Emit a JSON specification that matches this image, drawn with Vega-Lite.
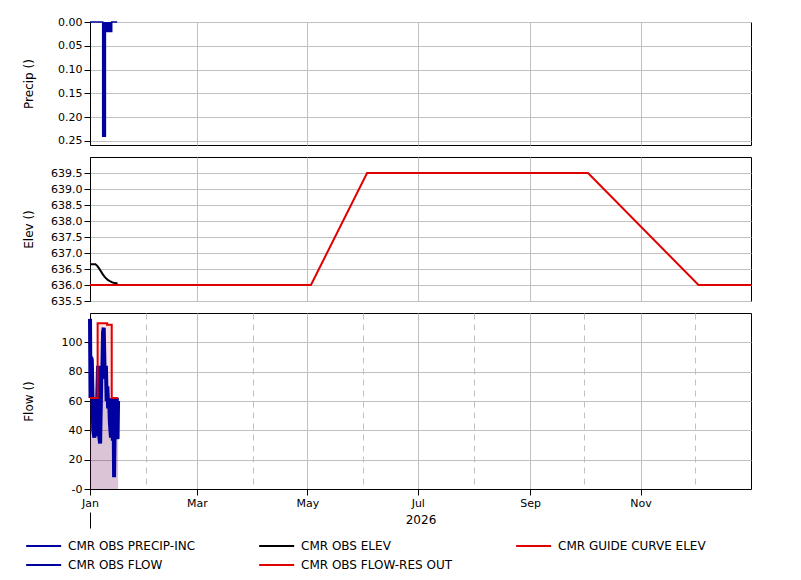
{
  "$schema": "https://vega.github.io/schema/vega-lite/v6.json",
  "padding": {"left": 21, "top": 15, "right": 5, "bottom": 5},
  "background": "white",
  "spacing": 12,
  "bounds": "flush",
  "datasets": {
    "precip": [
      {"t": "2026-01-01T00:00:00", "v": 0, "series": "CMR OBS PRECIP-INC"},
      {"t": "2026-01-08T00:00:00", "v": 0.24, "series": "CMR OBS PRECIP-INC"},
      {"t": "2026-01-09T12:00:00", "v": 0.02, "series": "CMR OBS PRECIP-INC"},
      {"t": "2026-01-13T00:00:00", "v": 0, "series": "CMR OBS PRECIP-INC"},
      {"t": "2026-01-16T00:00:00", "v": 0, "series": "CMR OBS PRECIP-INC"}
    ],
    "elev": [
      {"t": "2026-01-01T00:00:00", "v": 636.65, "series": "CMR OBS ELEV"},
      {"t": "2026-01-04T00:00:00", "v": 636.65, "series": "CMR OBS ELEV"},
      {"t": "2026-01-05T00:00:00", "v": 636.6, "series": "CMR OBS ELEV"},
      {"t": "2026-01-06T00:00:00", "v": 636.52, "series": "CMR OBS ELEV"},
      {"t": "2026-01-07T00:00:00", "v": 636.43, "series": "CMR OBS ELEV"},
      {"t": "2026-01-08T00:00:00", "v": 636.34, "series": "CMR OBS ELEV"},
      {"t": "2026-01-09T00:00:00", "v": 636.26, "series": "CMR OBS ELEV"},
      {"t": "2026-01-10T00:00:00", "v": 636.2, "series": "CMR OBS ELEV"},
      {"t": "2026-01-11T00:00:00", "v": 636.15, "series": "CMR OBS ELEV"},
      {"t": "2026-01-12T00:00:00", "v": 636.12, "series": "CMR OBS ELEV"},
      {"t": "2026-01-13T00:00:00", "v": 636.09, "series": "CMR OBS ELEV"},
      {"t": "2026-01-14T00:00:00", "v": 636.07, "series": "CMR OBS ELEV"},
      {"t": "2026-01-16T06:00:00", "v": 636.05, "series": "CMR OBS ELEV"}
    ],
    "guide": [
      {"t": "2026-01-01T00:00:00", "v": 636.0, "series": "CMR GUIDE CURVE ELEV"},
      {"t": "2026-05-03T00:00:00", "v": 636.0, "series": "CMR GUIDE CURVE ELEV"},
      {"t": "2026-06-03T00:00:00", "v": 639.5, "series": "CMR GUIDE CURVE ELEV"},
      {"t": "2026-10-03T00:00:00", "v": 639.5, "series": "CMR GUIDE CURVE ELEV"},
      {"t": "2026-12-03T00:00:00", "v": 636.0, "series": "CMR GUIDE CURVE ELEV"},
      {"t": "2027-01-01T00:00:00", "v": 636.0, "series": "CMR GUIDE CURVE ELEV"}
    ],
    "flow": [
      {"t": "2026-01-01T00:00:00", "v": 116, "series": "CMR OBS FLOW"},
      {"t": "2026-01-01T07:00:00", "v": 62, "series": "CMR OBS FLOW"},
      {"t": "2026-01-01T14:00:00", "v": 90, "series": "CMR OBS FLOW"},
      {"t": "2026-01-02T00:00:00", "v": 88, "series": "CMR OBS FLOW"},
      {"t": "2026-01-02T10:00:00", "v": 62, "series": "CMR OBS FLOW"},
      {"t": "2026-01-02T19:00:00", "v": 40, "series": "CMR OBS FLOW"},
      {"t": "2026-01-03T10:00:00", "v": 35, "series": "CMR OBS FLOW"},
      {"t": "2026-01-04T00:00:00", "v": 62, "series": "CMR OBS FLOW"},
      {"t": "2026-01-04T10:00:00", "v": 36, "series": "CMR OBS FLOW"},
      {"t": "2026-01-05T00:00:00", "v": 62, "series": "CMR OBS FLOW"},
      {"t": "2026-01-05T10:00:00", "v": 84, "series": "CMR OBS FLOW"},
      {"t": "2026-01-05T19:00:00", "v": 60, "series": "CMR OBS FLOW"},
      {"t": "2026-01-06T05:00:00", "v": 35, "series": "CMR OBS FLOW"},
      {"t": "2026-01-06T14:00:00", "v": 31, "series": "CMR OBS FLOW"},
      {"t": "2026-01-07T00:00:00", "v": 60, "series": "CMR OBS FLOW"},
      {"t": "2026-01-07T07:00:00", "v": 84, "series": "CMR OBS FLOW"},
      {"t": "2026-01-07T19:00:00", "v": 80, "series": "CMR OBS FLOW"},
      {"t": "2026-01-08T05:00:00", "v": 107, "series": "CMR OBS FLOW"},
      {"t": "2026-01-08T14:00:00", "v": 110, "series": "CMR OBS FLOW"},
      {"t": "2026-01-09T00:00:00", "v": 84, "series": "CMR OBS FLOW"},
      {"t": "2026-01-09T10:00:00", "v": 75, "series": "CMR OBS FLOW"},
      {"t": "2026-01-09T19:00:00", "v": 84, "series": "CMR OBS FLOW"},
      {"t": "2026-01-10T05:00:00", "v": 60, "series": "CMR OBS FLOW"},
      {"t": "2026-01-10T14:00:00", "v": 70, "series": "CMR OBS FLOW"},
      {"t": "2026-01-11T00:00:00", "v": 55, "series": "CMR OBS FLOW"},
      {"t": "2026-01-11T14:00:00", "v": 60, "series": "CMR OBS FLOW"},
      {"t": "2026-01-12T00:00:00", "v": 45, "series": "CMR OBS FLOW"},
      {"t": "2026-01-12T14:00:00", "v": 35, "series": "CMR OBS FLOW"},
      {"t": "2026-01-13T00:00:00", "v": 62, "series": "CMR OBS FLOW"},
      {"t": "2026-01-13T14:00:00", "v": 33, "series": "CMR OBS FLOW"},
      {"t": "2026-01-14T00:00:00", "v": 62, "series": "CMR OBS FLOW"},
      {"t": "2026-01-14T07:00:00", "v": 8, "series": "CMR OBS FLOW"},
      {"t": "2026-01-14T14:00:00", "v": 40, "series": "CMR OBS FLOW"},
      {"t": "2026-01-15T00:00:00", "v": 60, "series": "CMR OBS FLOW"},
      {"t": "2026-01-15T10:00:00", "v": 35, "series": "CMR OBS FLOW"},
      {"t": "2026-01-15T19:00:00", "v": 62, "series": "CMR OBS FLOW"},
      {"t": "2026-01-16T05:00:00", "v": 34, "series": "CMR OBS FLOW"},
      {"t": "2026-01-16T12:00:00", "v": 60, "series": "CMR OBS FLOW"}
    ],
    "resout": [
      {"t": "2026-01-01T00:00:00", "v": 62, "series": "CMR OBS FLOW-RES OUT"},
      {"t": "2026-01-05T05:00:00", "v": 113, "series": "CMR OBS FLOW-RES OUT"},
      {"t": "2026-01-10T10:00:00", "v": 112, "series": "CMR OBS FLOW-RES OUT"},
      {"t": "2026-01-13T00:00:00", "v": 62, "series": "CMR OBS FLOW-RES OUT"},
      {"t": "2026-01-16T14:00:00", "v": 62, "series": "CMR OBS FLOW-RES OUT"}
    ]
  },
  "resolve": {"scale": {"color": "shared"}, "legend": {"color": "shared"}},
  "vconcat": [
    {
      "width": 661,
      "height": 123,
      "data": {"name": "precip"},
      "mark": {"type": "area", "interpolate": "step-after", "opacity": 1, "line": {"strokeWidth": 1.5}},
      "encoding": {
        "x": {"field": "t", "type": "temporal",
          "scale": {"domain": [{"year": 2026, "month": 1, "date": 1}, {"year": 2027, "month": 1, "date": 1}]},
          "axis": {"values": [{"year": 2026, "month": 3, "date": 1}, {"year": 2026, "month": 5, "date": 1}, {"year": 2026, "month": 7, "date": 1}, {"year": 2026, "month": 9, "date": 1}, {"year": 2026, "month": 11, "date": 1}],
            "labels": false, "ticks": false, "domain": false, "title": null, "grid": true}},
        "y": {"field": "v", "type": "quantitative",
          "scale": {"domain": [0, 0.2585], "reverse": true, "nice": false, "zero": false},
          "axis": {"title": "Precip ()", "values": [0, 0.05, 0.1, 0.15, 0.2, 0.25], "format": ".2f", "tickCount": 50}},
        "color": {"field": "series", "type": "nominal",
          "scale": {"domain": ["CMR OBS PRECIP-INC", "CMR OBS ELEV", "CMR GUIDE CURVE ELEV", "CMR OBS FLOW", "CMR OBS FLOW-RES OUT"], "range": ["#0000a0", "#000000", "#e00000", "#0000a0", "#e00000"]}}
      }
    },
    {
      "width": 661,
      "height": 144,
      "layer": [
        {
          "data": {"name": "guide"},
          "mark": {"type": "line", "strokeWidth": 2},
          "encoding": {
            "x": {"field": "t", "type": "temporal",
              "scale": {"domain": [{"year": 2026, "month": 1, "date": 1}, {"year": 2027, "month": 1, "date": 1}]},
              "axis": {"values": [{"year": 2026, "month": 3, "date": 1}, {"year": 2026, "month": 5, "date": 1}, {"year": 2026, "month": 7, "date": 1}, {"year": 2026, "month": 9, "date": 1}, {"year": 2026, "month": 11, "date": 1}],
                "labels": false, "ticks": false, "domain": false, "title": null, "grid": true}},
            "y": {"field": "v", "type": "quantitative",
              "scale": {"domain": [635.5, 640], "nice": false, "zero": false},
              "axis": {"title": "Elev ()", "values": [635.5, 636, 636.5, 637, 637.5, 638, 638.5, 639, 639.5], "format": ".1f", "tickCount": 50}},
            "color": {"field": "series", "type": "nominal"}
          }
        },
        {
          "data": {"name": "elev"},
          "mark": {"type": "line", "strokeWidth": 2},
          "encoding": {
            "x": {"field": "t", "type": "temporal"},
            "y": {"field": "v", "type": "quantitative"},
            "color": {"field": "series", "type": "nominal"}
          }
        }
      ]
    },
    {
      "width": 661,
      "height": 176,
      "resolve": {"axis": {"x": "independent"}},
      "layer": [
        {
          "data": {"name": "resout"},
          "mark": {"type": "area", "interpolate": "step-after", "fillOpacity": 0.12},
          "encoding": {
            "x": {"field": "t", "type": "temporal",
              "scale": {"domain": [{"year": 2026, "month": 1, "date": 1}, {"year": 2027, "month": 1, "date": 1}]},
              "axis": {"values": [{"year": 2026, "month": 1, "date": 1}, {"year": 2026, "month": 2, "date": 1}, {"year": 2026, "month": 3, "date": 1}, {"year": 2026, "month": 4, "date": 1}, {"year": 2026, "month": 5, "date": 1}, {"year": 2026, "month": 6, "date": 1}, {"year": 2026, "month": 7, "date": 1}, {"year": 2026, "month": 8, "date": 1}, {"year": 2026, "month": 9, "date": 1}, {"year": 2026, "month": 10, "date": 1}, {"year": 2026, "month": 11, "date": 1}, {"year": 2026, "month": 12, "date": 1}],
                "format": "%b",
                "labelExpr": "month(datum.value) % 2 == 0 ? datum.label : ''",
                "gridDash": {"condition": {"test": "month(datum.value) % 2 == 1", "value": [6, 5]}, "value": []},
                "tickOpacity": {"condition": {"test": "month(datum.value) % 2 == 1", "value": 0}, "value": 1},
                "title": null, "grid": true, "domain": true, "orient": "bottom"}},
            "y": {"field": "v", "type": "quantitative",
              "scale": {"domain": [0, 120], "nice": false},
              "axis": {"title": "Flow ()", "values": [0, 20, 40, 60, 80, 100], "tickCount": 50, "labelExpr": "datum.value == 0 ? '-0' : datum.label"}},
            "color": {"field": "series", "type": "nominal"}
          }
        },
        {
          "data": {"name": "flow"},
          "mark": {"type": "area", "fillOpacity": 0.12},
          "encoding": {
            "x": {"field": "t", "type": "temporal",
              "axis": {"orient": "bottom", "offset": 23, "values": [{"year": 2026, "month": 1, "date": 1}], "labels": false, "tickSize": 16, "domain": false, "grid": false, "title": "2026", "titleY": 2, "titleBaseline": "top"}},
            "y": {"field": "v", "type": "quantitative"},
            "color": {"field": "series", "type": "nominal"}
          }
        },
        {
          "data": {"name": "flow"},
          "mark": {"type": "line", "strokeWidth": 4},
          "encoding": {
            "x": {"field": "t", "type": "temporal", "axis": null},
            "y": {"field": "v", "type": "quantitative"},
            "color": {"field": "series", "type": "nominal"}
          }
        },
        {
          "data": {"name": "resout"},
          "mark": {"type": "line", "interpolate": "step-after", "strokeWidth": 2},
          "encoding": {
            "x": {"field": "t", "type": "temporal", "axis": null},
            "y": {"field": "v", "type": "quantitative"},
            "color": {"field": "series", "type": "nominal"}
          }
        }
      ]
    }
  ],
  "config": {
    "font": "DejaVu Sans",
    "view": {"stroke": "black", "strokeWidth": 1},
    "axis": {
      "labelFont": "DejaVu Sans", "labelFontSize": 11, "labelColor": "black",
      "titleFont": "DejaVu Sans", "titleFontSize": 12, "titleFontWeight": "normal", "titleColor": "black",
      "gridColor": "#c0c0c0", "gridOpacity": 1, "gridWidth": 1,
      "domainColor": "black", "tickColor": "black", "tickSize": 6, "labelPadding": 2,
      "labelFlush": false, "labelOverlap": false, "labelBound": false
    },
    "axisY": {"titleX": -55, "titleBaseline": "bottom", "grid": true},
    "legend": {
      "orient": "none", "legendX": -65, "legendY": 517,
      "direction": "horizontal", "columns": 3, "columnPadding": 59, "rowPadding": 6,
      "title": null, "padding": 0, "labelFont": "DejaVu Sans", "labelFontSize": 12, "labelColor": "black",
      "labelLimit": 300, "symbolType": "M-1,0H5", "symbolSize": 136, "labelOffset": 29,
      "symbolOpacity": 1, "symbolStrokeWidth": 2, "gridAlign": "each"
    }
  }
}
